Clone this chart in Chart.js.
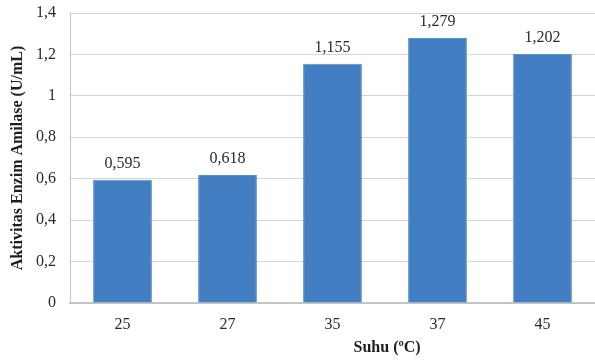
<!DOCTYPE html>
<html>
<head>
<meta charset="utf-8">
<script src="https://cdn.jsdelivr.net/npm/chart.js@4/dist/chart.umd.min.js"></script>
<style>
  html, body { margin: 0; padding: 0; background: #fff; }
  #wrap { width: 595px; height: 362px; }
</style>
</head>
<body>
<div id="wrap"><canvas id="c" width="595" height="362"></canvas></div>
<script>
// Amylase activity by incubation temperature
const temperatures = ['25', '27', '35', '37', '45'];
const activity = [0.595, 0.618, 1.155, 1.279, 1.202];
const yTicks = [0, 0.2, 0.4, 0.6, 0.8, 1, 1.2, 1.4];

const xTitle = 'Suhu (\u00BAC)';
const yTitle = 'Aktivitas Enzim Amilase (U/mL)';

const serif = '"Liberation Serif", "Times New Roman", serif';

function comma(v, digits) {
  return (digits == null ? String(Math.round(v * 10) / 10) : v.toFixed(digits)).replace('.', ',');
}

// value labels over each bar
const valueLabels = {
  id: 'valueLabels',
  afterDatasetsDraw(chart) {
    const ctx = chart.ctx;
    const meta = chart.getDatasetMeta(0);
    ctx.save();
    ctx.font = '16px ' + serif;
    ctx.fillStyle = '#2a2a2a';
    ctx.textAlign = 'center';
    ctx.textBaseline = 'alphabetic';
    meta.data.forEach((bar, i) => {
      ctx.fillText(comma(activity[i], 3), bar.x, bar.y - 12);
    });
    ctx.restore();
  }
};

// x axis caption, set a little right of centre
const xCaption = {
  id: 'xCaption',
  afterDraw(chart) {
    const a = chart.chartArea;
    const ctx = chart.ctx;
    ctx.save();
    ctx.font = 'bold 16px ' + serif;
    ctx.fillStyle = '#1e1e1e';
    ctx.textAlign = 'center';
    ctx.textBaseline = 'middle';
    ctx.fillText(xTitle, a.left + (a.right - a.left) * 0.604, 348);
    ctx.restore();
  }
};

new Chart(document.getElementById('c'), {
  type: 'bar',
  data: {
    labels: temperatures,
    datasets: [{
      data: activity,
      backgroundColor: '#437dc2',
      borderColor: '#5a8fcc',
      borderWidth: 1,
      barPercentage: 0.56,
      categoryPercentage: 1
    }]
  },
  options: {
    responsive: false,
    animation: false,
    devicePixelRatio: 1,
    layout: { padding: { top: 13, right: 0, left: 0, bottom: 0 } },
    plugins: {
      legend: { display: false },
      tooltip: { enabled: false }
    },
    scales: {
      x: {
        grid: { display: false, drawTicks: false },
        border: { color: '#c4c4c4', width: 2 },
        ticks: {
          font: { family: serif, size: 16 },
          color: '#2a2a2a',
          padding: 12
        },
        afterFit(scale) { scale.height = 59; scale.paddingLeft = 0; scale.paddingRight = 0; }
      },
      y: {
        min: 0,
        max: 1.4,
        afterBuildTicks(scale) { scale.ticks = yTicks.map(v => ({ value: v })); },
        grid: { color: '#d4d4d4', lineWidth: 1, drawTicks: false },
        border: { color: '#c4c4c4', width: 1 },
        ticks: {
          font: { family: serif, size: 16 },
          color: '#2a2a2a',
          padding: 14,
          callback: v => comma(v)
        },
        title: {
          display: true,
          text: yTitle,
          font: { family: serif, size: 16, weight: 'bold' },
          color: '#1e1e1e',
          padding: { top: 8, bottom: 2 }
        },
        afterFit(scale) { scale.width = 70; scale.paddingTop = 0; scale.paddingBottom = 0; }
      }
    }
  },
  plugins: [valueLabels, xCaption]
});
</script>
</body>
</html>
